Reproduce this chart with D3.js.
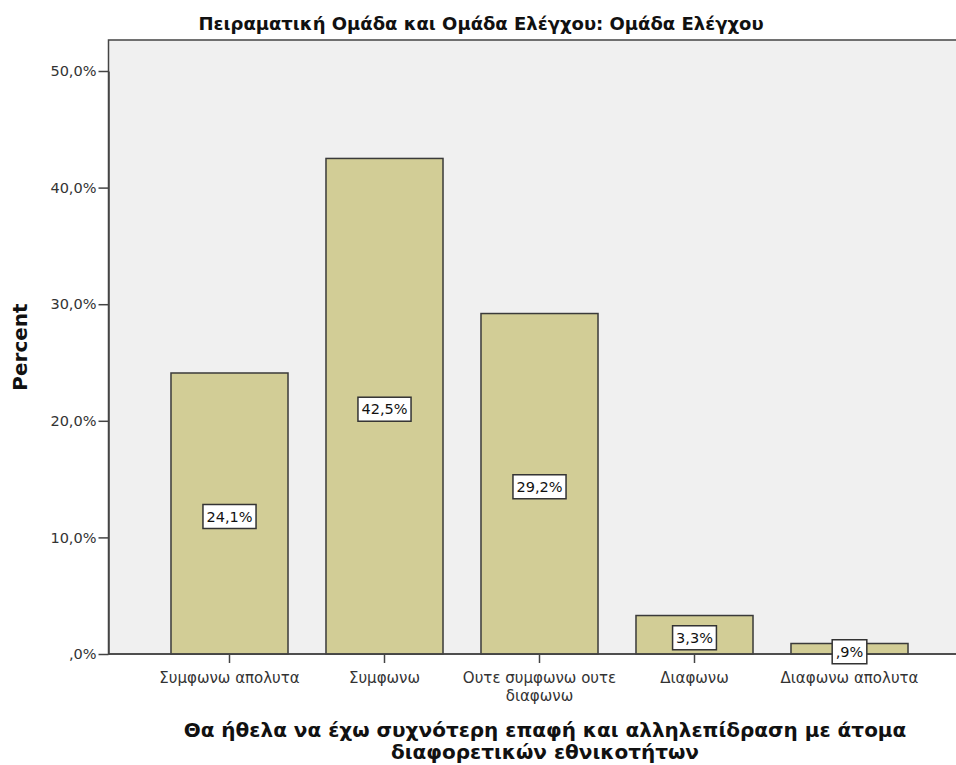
<!DOCTYPE html>
<html>
<head>
<meta charset="utf-8">
<script src="https://cdn.jsdelivr.net/npm/d3@7"></script>
<style>
  body { margin: 0; background: #fff; }
  svg { display: block; font-family: "DejaVu Sans", Verdana, sans-serif; }
</style>
</head>
<body>
<div id="chart"></div>
<script>
const categories = ['Συμφωνω απολυτα', 'Συμφωνω', 'Ουτε συμφωνω ουτε διαφωνω', 'Διαφωνω', 'Διαφωνω απολυτα'];
const categoryLines = [['Συμφωνω απολυτα'], ['Συμφωνω'], ['Ουτε συμφωνω ουτε', 'διαφωνω'], ['Διαφωνω'], ['Διαφωνω απολυτα']];
const percents = [24.1, 42.5, 29.2, 3.3, 0.9];
const valueLabels = ['24,1%', '42,5%', '29,2%', '3,3%', ',9%'];
const yTicks = [0, 10, 20, 30, 40, 50];
const yTickLabels = [',0%', '10,0%', '20,0%', '30,0%', '40,0%', '50,0%'];
const title = 'Πειραματική Ομάδα και Ομάδα Ελέγχου: Ομάδα Ελέγχου';
const xTitle = ['Θα ήθελα να έχω συχνότερη επαφή και αλληλεπίδραση με άτομα', 'διαφορετικών εθνικοτήτων'];
const yTitle = 'Percent';

const W = 956, H = 765;
const plot = { left: 108.5, top: 40, right: 960, bottom: 654 };

const svg = d3.select('#chart').append('svg')
  .attr('width', W)
  .attr('height', H);

// plot background
svg.append('rect')
  .attr('x', plot.left)
  .attr('y', plot.top)
  .attr('width', plot.right - plot.left)
  .attr('height', plot.bottom - plot.top)
  .attr('fill', '#f0f0f0')
  .attr('stroke', '#444')
  .attr('stroke-width', 1.5);

const y = d3.scaleLinear()
  .domain([0, 50])
  .range([plot.bottom, 71]);

const x = d3.scaleBand()
  .domain(categories)
  .range([152, 927])
  .paddingInner(0.245)
  .paddingOuter(0.1225);

// bars
svg.append('g')
  .selectAll('rect')
  .data(categories)
  .enter()
  .append('rect')
  .attr('x', (d) => x(d))
  .attr('y', (d, i) => y(percents[i]))
  .attr('width', x.bandwidth())
  .attr('height', (d, i) => y(0) - y(percents[i]))
  .attr('fill', '#d2cd96')
  .attr('stroke', '#3a3a3a')
  .attr('stroke-width', 1.5);

// y axis
const yAxis = svg.append('g')
  .attr('transform', `translate(${plot.left},0)`)
  .call(d3.axisLeft(y).tickValues(yTicks).tickSize(10).tickSizeOuter(0)
    .tickFormat((d, i) => yTickLabels[i]));
yAxis.select('.domain').attr('stroke', '#444').attr('stroke-width', 1.5);
yAxis.selectAll('.tick line').attr('stroke', '#444').attr('stroke-width', 1.5);
yAxis.selectAll('.tick text')
  .attr('font-size', 14.5)
  .attr('fill', '#333')
  .attr('font-family', '"DejaVu Sans", Verdana, sans-serif')
  .attr('x', -12);

// x axis
const xAxis = svg.append('g')
  .attr('transform', `translate(0,${plot.bottom})`)
  .call(d3.axisBottom(x).tickSize(9).tickSizeOuter(0).tickFormat(''));
xAxis.select('.domain').attr('stroke', '#444').attr('stroke-width', 1.5)
  .attr('d', `M${plot.left},0H${plot.right}`);
xAxis.selectAll('.tick line').attr('stroke', '#444').attr('stroke-width', 1.5);

// category labels, one text per line
categories.forEach((d, i) => {
  categoryLines[i].forEach((line, j) => {
    svg.append('text')
      .attr('x', x(d) + x.bandwidth() / 2)
      .attr('y', plot.bottom + 29 + j * 17.5)
      .attr('text-anchor', 'middle')
      .attr('font-size', 15)
      .attr('fill', '#333')
      .text(line);
  });
});

// value labels
const labels = svg.append('g')
  .selectAll('g')
  .data(categories)
  .enter()
  .append('g')
  .attr('transform', (d, i) => `translate(${x(d) + x.bandwidth() / 2},${(y(0) + y(percents[i])) / 2 + 3})`);

labels.append('text')
  .attr('text-anchor', 'middle')
  .attr('dy', '0.36em')
  .attr('font-size', 14.5)
  .attr('fill', '#111')
  .text((d, i) => valueLabels[i]);

labels.each(function () {
  const g = d3.select(this);
  const bb = g.select('text').node().getBBox();
  g.insert('rect', 'text')
    .attr('x', bb.x - 3.5)
    .attr('y', -12)
    .attr('width', bb.width + 7)
    .attr('height', 24)
    .attr('fill', '#fff')
    .attr('stroke', '#333')
    .attr('stroke-width', 1.5);
});

// title
svg.append('text')
  .attr('x', 481)
  .attr('y', 30)
  .attr('text-anchor', 'middle')
  .attr('font-weight', 'bold')
  .attr('font-size', 18)
  .attr('fill', '#111')
  .text(title);

// y title
svg.append('text')
  .attr('transform', `translate(27,${(plot.top + plot.bottom) / 2}) rotate(-90)`)
  .attr('text-anchor', 'middle')
  .attr('font-weight', 'bold')
  .attr('font-size', 20)
  .attr('fill', '#111')
  .text(yTitle);

// x title
svg.append('text')
  .attr('text-anchor', 'middle')
  .attr('font-weight', 'bold')
  .attr('font-size', 20)
  .attr('fill', '#111')
  .selectAll('tspan')
  .data(xTitle)
  .enter()
  .append('tspan')
  .attr('x', 545)
  .attr('y', (d, i) => 737 + i * 22)
  .text((d) => d);
</script>
</body>
</html>
